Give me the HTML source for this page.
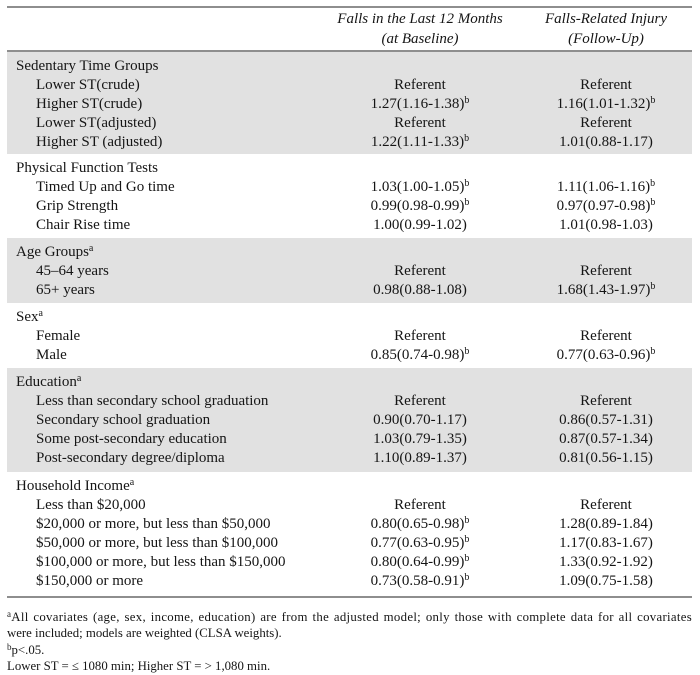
<!DOCTYPE html>
<html>
<head>
<meta charset="utf-8">
<style>
  html, body { margin:0; padding:0; background:#fff; }
  body { width:700px; height:675px; position:relative; overflow:hidden;
         font-family:"Liberation Serif", "Times New Roman", serif; color:#151515; }
  .rule { position:absolute; left:7px; width:685px; height:2px; background:#8e8e8e; }
  .blk { position:absolute; left:7px; width:685px; box-sizing:border-box; padding-top:4.5px; }
  .gray { background:#e1e1e1; }
  .row { position:relative; height:19.2px; line-height:19.2px; font-size:15px; white-space:nowrap; }
  .lab { position:absolute; left:9px; top:0; }
  .sub { left:29px; }
  .c1 { position:absolute; left:313px; width:200px; text-align:center; top:0; }
  .c2 { position:absolute; left:499px; width:200px; text-align:center; top:0; }
  sup { font-size:10px; line-height:0; vertical-align:0; position:relative; top:-5px; }
  .hdr { position:absolute; top:10px; font-style:italic; font-size:15px; line-height:19.5px; text-align:center; width:240px; white-space:nowrap; }
  .foot { position:absolute; left:7px; top:609px; width:685px; font-size:12.8px; line-height:16.3px; }
  .foot div { white-space:nowrap; height:16.3px; }
  .foot .just { white-space:normal; text-align:justify; text-align-last:justify; letter-spacing:0.3px; }
  .foot sup { font-size:9px; top:-4px; }
</style>
</head>
<body>
  <div class="rule" style="top:6px;"></div>
  <div class="hdr" style="left:300px;">Falls in the Last 12 Months<br>(at Baseline)</div>
  <div class="hdr" style="left:486px;">Falls-Related Injury<br>(Follow-Up)</div>
  <div class="rule" style="top:50px;"></div>

  <div class="blk gray" style="top:52px;height:102px;">
    <div class="row"><span class="lab">Sedentary Time Groups</span></div>
    <div class="row"><span class="lab sub">Lower ST(crude)</span><span class="c1">Referent</span><span class="c2">Referent</span></div>
    <div class="row"><span class="lab sub">Higher ST(crude)</span><span class="c1">1.27(1.16-1.38)<sup>b</sup></span><span class="c2">1.16(1.01-1.32)<sup>b</sup></span></div>
    <div class="row"><span class="lab sub">Lower ST(adjusted)</span><span class="c1">Referent</span><span class="c2">Referent</span></div>
    <div class="row"><span class="lab sub">Higher ST (adjusted)</span><span class="c1">1.22(1.11-1.33)<sup>b</sup></span><span class="c2">1.01(0.88-1.17)</span></div>
  </div>

  <div class="blk" style="top:154px;height:84px;">
    <div class="row"><span class="lab">Physical Function Tests</span></div>
    <div class="row"><span class="lab sub">Timed Up and Go time</span><span class="c1">1.03(1.00-1.05)<sup>b</sup></span><span class="c2">1.11(1.06-1.16)<sup>b</sup></span></div>
    <div class="row"><span class="lab sub">Grip Strength</span><span class="c1">0.99(0.98-0.99)<sup>b</sup></span><span class="c2">0.97(0.97-0.98)<sup>b</sup></span></div>
    <div class="row"><span class="lab sub">Chair Rise time</span><span class="c1">1.00(0.99-1.02)</span><span class="c2">1.01(0.98-1.03)</span></div>
  </div>

  <div class="blk gray" style="top:238px;height:65px;">
    <div class="row"><span class="lab">Age Groups<sup>a</sup></span></div>
    <div class="row"><span class="lab sub">45–64 years</span><span class="c1">Referent</span><span class="c2">Referent</span></div>
    <div class="row"><span class="lab sub">65+ years</span><span class="c1">0.98(0.88-1.08)</span><span class="c2">1.68(1.43-1.97)<sup>b</sup></span></div>
  </div>

  <div class="blk" style="top:303px;height:65px;">
    <div class="row"><span class="lab">Sex<sup>a</sup></span></div>
    <div class="row"><span class="lab sub">Female</span><span class="c1">Referent</span><span class="c2">Referent</span></div>
    <div class="row"><span class="lab sub">Male</span><span class="c1">0.85(0.74-0.98)<sup>b</sup></span><span class="c2">0.77(0.63-0.96)<sup>b</sup></span></div>
  </div>

  <div class="blk gray" style="top:368px;height:104px;">
    <div class="row"><span class="lab">Education<sup>a</sup></span></div>
    <div class="row"><span class="lab sub">Less than secondary school graduation</span><span class="c1">Referent</span><span class="c2">Referent</span></div>
    <div class="row"><span class="lab sub">Secondary school graduation</span><span class="c1">0.90(0.70-1.17)</span><span class="c2">0.86(0.57-1.31)</span></div>
    <div class="row"><span class="lab sub">Some post-secondary education</span><span class="c1">1.03(0.79-1.35)</span><span class="c2">0.87(0.57-1.34)</span></div>
    <div class="row"><span class="lab sub">Post-secondary degree/diploma</span><span class="c1">1.10(0.89-1.37)</span><span class="c2">0.81(0.56-1.15)</span></div>
  </div>

  <div class="blk" style="top:472px;height:124px;">
    <div class="row"><span class="lab">Household Income<sup>a</sup></span></div>
    <div class="row"><span class="lab sub">Less than $20,000</span><span class="c1">Referent</span><span class="c2">Referent</span></div>
    <div class="row"><span class="lab sub">$20,000 or more, but less than $50,000</span><span class="c1">0.80(0.65-0.98)<sup>b</sup></span><span class="c2">1.28(0.89-1.84)</span></div>
    <div class="row"><span class="lab sub">$50,000 or more, but less than $100,000</span><span class="c1">0.77(0.63-0.95)<sup>b</sup></span><span class="c2">1.17(0.83-1.67)</span></div>
    <div class="row"><span class="lab sub">$100,000 or more, but less than $150,000</span><span class="c1">0.80(0.64-0.99)<sup>b</sup></span><span class="c2">1.33(0.92-1.92)</span></div>
    <div class="row"><span class="lab sub">$150,000 or more</span><span class="c1">0.73(0.58-0.91)<sup>b</sup></span><span class="c2">1.09(0.75-1.58)</span></div>
  </div>

  <div class="rule" style="top:596px;"></div>

  <div class="foot">
    <div class="just"><sup>a</sup>All covariates (age, sex, income, education) are from the adjusted model; only those with complete data for all covariates</div>
    <div>were included; models are weighted (CLSA weights).</div>
    <div><sup>b</sup>p&lt;.05.</div>
    <div>Lower ST = ≤ 1080 min; Higher ST = &gt; 1,080 min.</div>
  </div>
</body>
</html>
